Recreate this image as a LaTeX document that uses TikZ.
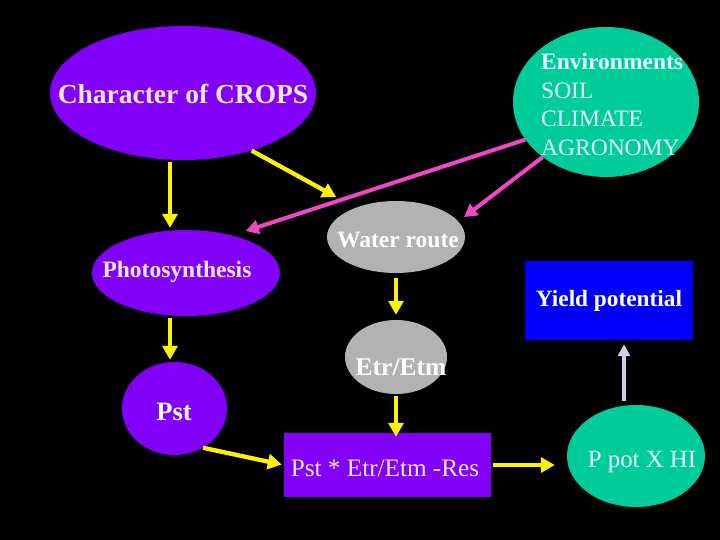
\documentclass[tikz,border=0pt]{standalone}
\usepackage{fontspec}
\setmainfont{Liberation Serif}
\usetikzlibrary{shapes.geometric,arrows.meta}
\definecolor{cpurple}{RGB}{130,0,250}
\definecolor{cteal}{RGB}{0,204,153}
\definecolor{cblue}{RGB}{0,0,250}
\definecolor{cgray}{RGB}{178,178,178}
\definecolor{cpink}{RGB}{240,70,200}
\definecolor{clav}{RGB}{205,205,240}
\definecolor{tpink}{RGB}{248,232,248}
\definecolor{tcyan}{RGB}{228,255,255}
\tikzset{
  ell/.style={ellipse,inner sep=0pt,draw=none},
  boxshape/.style={rectangle,inner sep=0pt,draw=none},
  lbl/.style={inner sep=0pt,font=\fontsize{23.5}{28}\selectfont},
  yarrow/.style={draw=yellow,line width=4.3pt,-{Triangle[width=15pt,length=14pt]}},
  parrow/.style={draw=cpink,line width=4pt,-{Triangle[width=14pt,length=13pt]}},
  larrow/.style={draw=clav,line width=4pt,-{Triangle[width=12pt,length=12pt]}},
}
\begin{document}
\begin{tikzpicture}[x=1pt,y=-1pt]
\fill[black] (0,0) rectangle (720,540);
\useasboundingbox (0,0) rectangle (720,540);
% shapes
\node[ell,fill=cpurple,minimum width=266pt,minimum height=134pt] (char) at (183,93) {};
\node[ell,fill=cteal,minimum width=186pt,minimum height=150pt] (env) at (606,102) {};
\node[ell,fill=cgray,minimum width=138pt,minimum height=72pt] (water) at (396,237) {};
\node[ell,fill=cpurple,minimum width=188pt,minimum height=86pt] (photo) at (186,273) {};
\node[boxshape,fill=cblue,minimum width=168pt,minimum height=79pt] (yield) at (609,300.5) {};
\node[ell,fill=cgray,minimum width=102pt,minimum height=74pt] (etr) at (396,357) {};
\node[ell,fill=cpurple,minimum width=105pt,minimum height=93pt] (pst) at (174.5,408.5) {};
\node[boxshape,fill=cpurple,minimum width=207pt,minimum height=64pt] (box) at (387.5,465) {};
\node[ell,fill=cteal,minimum width=138pt,minimum height=102pt] (ppot) at (636,456) {};
% labels
\node[lbl,text=tpink,font=\fontsize{27.5}{32}\selectfont\bfseries] (charT) at (183,94) {Character of CROPS};
\node[lbl,text=tcyan,align=left,anchor=north west,font=\fontsize{23.5}{28.7}\selectfont] (envT) at (541,53) {\textbf{Environments}\\SOIL\\CLIMATE\\AGRONOMY};
\node[lbl,text=white,font=\fontsize{23.5}{28}\selectfont\bfseries] (waterT) at (398,240) {Water route};
\node[lbl,text=tpink,font=\fontsize{23.5}{28}\selectfont\bfseries] (photoT) at (177,272) {Photosynthesis};
\node[lbl,text=white,font=\fontsize{23.3}{28}\selectfont\bfseries] (yieldT) at (609,301) {Yield potential};
\node[lbl,text=white,font=\fontsize{25.5}{28}\selectfont\bfseries] (etrT) at (401,367) {Etr/Etm};
\node[lbl,text=white,font=\fontsize{26.5}{30}\selectfont\bfseries] (pstT) at (174,412) {Pst};
\node[lbl,text=tpink,font=\fontsize{25.2}{28}\selectfont] (boxT) at (385,468) {Pst * Etr/Etm -Res};
\node[lbl,text=tcyan,font=\fontsize{24.8}{28}\selectfont] (ppotT) at (642,462) {P pot X HI};
% connectors
\draw[yarrow,shorten <=2pt,shorten >=2pt] ([xshift=-13pt]char.south) -- ([xshift=-16pt]photo.north);
\draw[yarrow,shorten >=22pt] (char.-40) -- (water.144);
\draw[parrow,shorten >=14pt] (env.205) -- (photo.39.7);
\draw[parrow,shorten >=7pt] (env.221) -- (water.14.6);
\draw[yarrow,shorten <=2pt,shorten >=2pt] ([xshift=-16pt]photo.south) -- ([xshift=-4.5pt]pst.north);
\draw[yarrow,shorten <=5pt,shorten >=5pt] (water.south) -- (etr.north);
\draw[yarrow,shorten <=2pt,shorten >=-4pt] (etr.south) -- (etr.south |- box.north);
\draw[yarrow,shorten >=2pt] (pst.-54) -- (box.west);
\draw[yarrow,shorten <=2pt,shorten >=12pt] (box.east) -- (box.east -| ppot.west);
\draw[larrow,shorten <=4pt,shorten >=4pt] ([xshift=-12pt]ppot.north) -- ([xshift=-12pt]ppot.north |- yield.south);
\end{tikzpicture}
\end{document}
